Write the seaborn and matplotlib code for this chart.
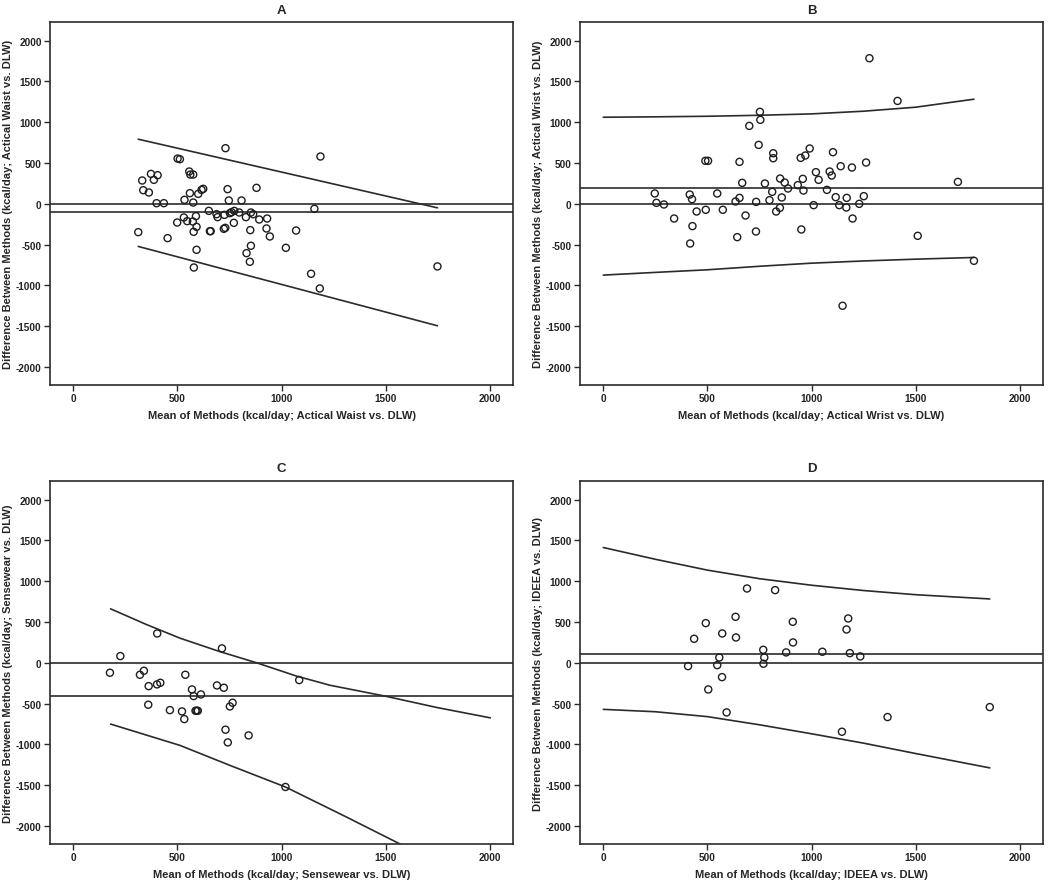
import numpy as np
import matplotlib
matplotlib.use("Agg")
import matplotlib.pyplot as plt
import seaborn as sns

# ---- data ----
# A: Actical Waist vs DLW
a_mean = [312, 331, 336, 363, 373, 387, 405, 400, 435, 453, 499, 501, 512, 531, 534,
          547, 557, 560, 562, 576, 576, 574, 578, 589, 592, 592, 579, 600, 616, 624,
          651, 656, 660, 688, 693, 723, 730, 731, 726, 741, 747, 752, 760, 773, 771,
          797, 808, 829, 832, 850, 853, 848, 853, 864, 880, 893, 928, 931, 944, 1021,
          1070, 1142, 1158, 1184, 1187, 1749]
a_diff = [-347, 286, 167, 139, 367, 294, 351, 8, 8, -420, -229, 555, 547, -167, 49,
          -212, 396, 131, 359, 359, 16, -216, -343, -151, -282, -563, -780, 122, 171, 184,
          -86, -335, -335, -127, -163, -306, -294, 682, -135, 180, 41, -114, -102, -86, -233,
          -106, 41, -163, -604, -322, -514, -710, -106, -127, 196, -192, -302, -180, -400, -539,
          -327, -857, -61, -1037, 580, -767]
a_bias = -106
a_loa_x = [312, 1749]
a_upper = [792, -49]
a_lower = [-522, -1494]

# B: Actical Wrist vs DLW
b_mean = [247, 255, 291, 340, 415, 426, 428, 417, 448, 492, 490, 503, 547, 574, 635,
          643, 654, 654, 667, 683, 701, 733, 734, 746, 752, 754, 776, 798, 811, 816,
          816, 830, 848, 849, 857, 871, 887, 934, 948, 951, 958, 961, 970, 991, 1010,
          1021, 1034, 1074, 1087, 1097, 1103, 1116, 1133, 1140, 1169, 1167, 1194, 1197, 1229, 1251,
          1262, 1278, 1413, 1149, 1510, 1703, 1780]
b_diff = [127, 12, -8, -180, 114, 57, -273, -486, -94, -73, 527, 527, 127, -73, 29,
          -408, 73, 514, 257, -143, 955, -339, 24, 722, 1127, 1029, 249, 45, 147, 620,
          559, -94, -49, 310, 78, 261, 188, 229, 563, -314, 306, 163, 592, 678, -16,
          388, 294, 171, 396, 347, 633, 82, -16, 461, 73, -45, 445, -180, 0, 94,
          506, 1784, 1261, -1249, -392, 269, -698]
b_bias = 196
b_loa_x = [0, 250, 500, 750, 1000, 1250, 1500, 1780]
b_upper = [1061, 1066, 1073, 1085, 1102, 1135, 1184, 1282]
b_lower = [-873, -840, -808, -765, -727, -700, -678, -657]

# C: Sensewear vs DLW
c_mean = [176, 226, 320, 339, 362, 360, 403, 402, 418, 464, 522, 533, 538, 570, 578,
          587, 592, 598, 613, 690, 714, 723, 731, 742, 752, 765, 842, 1019, 1085]
c_diff = [-122, 82, -147, -98, -286, -514, 359, -265, -245, -580, -596, -690, -147, -327, -408,
          -588, -588, -588, -388, -278, 176, -306, -820, -976, -535, -490, -890, -1522, -212]
c_bias = -412
c_loa_x = [179, 350, 512, 700, 880, 1072, 1232, 1504, 1744, 2003]
c_upper = [661, 470, 302, 140, 0, -163, -275, -412, -547, -675]
c_low_x = [179, 512, 752, 1019, 1312, 1600]
c_lower = [-751, -1012, -1257, -1522, -1890, -2260]

# D: IDEEA vs DLW
d_mean = [407, 436, 492, 504, 547, 557, 570, 571, 592, 635, 637, 690, 768, 773, 769,
          825, 878, 910, 911, 1052, 1146, 1168, 1176, 1184, 1234, 1365, 1856]
d_diff = [-41, 294, 486, -327, -29, 65, -176, 359, -608, 563, 310, 910, 159, 65, -12,
          890, 127, 502, 249, 135, -845, 408, 543, 118, 78, -665, -543]
d_bias = 112
d_loa_x = [0, 250, 500, 750, 1000, 1250, 1500, 1856]
d_upper = [1412, 1268, 1135, 1030, 950, 885, 834, 782]
d_lower = [-571, -600, -660, -760, -870, -985, -1112, -1288]

panels = [
    ("A", "Actical Waist", a_mean, a_diff, a_bias, [(a_loa_x, a_upper), (a_loa_x, a_lower)]),
    ("B", "Actical Wrist", b_mean, b_diff, b_bias, [(b_loa_x, b_upper), (b_loa_x, b_lower)]),
    ("C", "Sensewear", c_mean, c_diff, c_bias, [(c_loa_x, c_upper), (c_low_x, c_lower)]),
    ("D", "IDEEA", d_mean, d_diff, d_bias, [(d_loa_x, d_upper), (d_loa_x, d_lower)]),
]

sns.set_style("ticks")
plt.rcParams["font.family"] = ["Liberation Sans", "DejaVu Sans"]
plt.rcParams["font.weight"] = "bold"
plt.rcParams["axes.unicode_minus"] = False

ink = "#2b2b2b"
fig = plt.figure(figsize=(10.5, 8.87), dpi=100)
rects = [
    [0.0476, 0.5648, 0.441, 0.409],
    [0.5524, 0.5648, 0.441, 0.409],
    [0.0476, 0.0474, 0.441, 0.409],
    [0.5524, 0.0474, 0.441, 0.409],
]

for rect, (letter, device, xm, yd, bias, loas) in zip(rects, panels):
    ax = fig.add_axes(rect)
    ax.axhline(0, color=ink, lw=1.2, zorder=1)
    ax.axhline(bias, color=ink, lw=1.2, zorder=1)
    for lx, ly in loas:
        sns.lineplot(x=lx, y=ly, ax=ax, color=ink, lw=1.2, estimator=None, sort=True)
    sns.scatterplot(x=xm, y=yd, ax=ax, marker="o", s=26, facecolor="none",
                    edgecolor="#1e1e1e", linewidth=1.0, zorder=3)
    ax.set_xlim(-112, 2112)
    ax.set_ylim(-2220, 2225)
    ax.set_xticks(range(0, 2001, 500))
    ax.set_yticks(range(-2000, 2001, 500))
    ax.tick_params(direction="out", length=4, width=1, color=ink, labelsize=7.2,
                   pad=2, labelcolor="#222")
    for sp in ax.spines.values():
        sp.set_visible(True)
        sp.set_color(ink)
        sp.set_linewidth(1.2)
    ax.set_title(letter, fontsize=9.5, fontweight="bold", pad=7)
    ax.set_xlabel(f"Mean of Methods (kcal/day; {device} vs. DLW)",
                  fontsize=8, fontweight="bold", labelpad=5)
    ax.set_ylabel(f"Difference Between Methods (kcal/day; {device} vs. DLW)",
                  fontsize=8, fontweight="bold", labelpad=2)

fig.savefig("out.png", dpi=100)
